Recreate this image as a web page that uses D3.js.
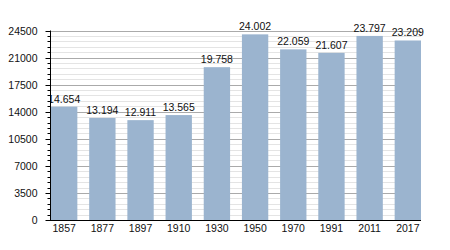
<!DOCTYPE html>
<html>
<head>
<meta charset="utf-8">
<script src="https://cdn.jsdelivr.net/npm/d3@7"></script>
<style>
body { margin: 0; background: #fff; }
text { font-family: "Liberation Sans", Arial, sans-serif; }
</style>
</head>
<body>
<script>
var years = ["1857", "1877", "1897", "1910", "1930", "1950", "1970", "1991", "2011", "2017"];
var population = [14654, 13194, 12911, 13565, 19758, 24002, 22059, 21607, 23797, 23209];
var labels = ["14.654", "13.194", "12.911", "13.565", "19.758", "24.002", "22.059", "21.607", "23.797", "23.209"];
var yTicks = [0, 3500, 7000, 10500, 14000, 17500, 21000, 24500];

var width = 450, height = 250;
var plotLeft = 50, plotRight = 421, plotTop = 30.5, plotBottom = 220;

var svg = d3.select("body").append("svg").attr("width", width).attr("height", height);

var x = d3.scaleBand().domain(years).range([plotLeft + 1, plotRight]).paddingInner(0.31).paddingOuter(0);
var y = d3.scaleLinear().domain([0, 24500]).range([plotBottom, plotTop]);

var minor = d3.range(0, 24501, 700);

function py(d) { return Math.round(y(d)) + 0.5; }

// labels get cut at the y axis, like the original
svg.append("clipPath").attr("id", "plot")
    .append("rect").attr("x", plotLeft + 1).attr("y", 0).attr("width", width - plotLeft).attr("height", plotBottom);

// minor grid
svg.append("g").selectAll("line").data(minor).enter().append("line")
    .attr("x1", plotLeft).attr("x2", plotRight)
    .attr("y1", py).attr("y2", py)
    .attr("stroke", "#e4e4e4").attr("stroke-width", 1);

// major grid
svg.append("g").selectAll("line").data(yTicks).enter().append("line")
    .attr("x1", plotLeft).attr("x2", plotRight)
    .attr("y1", py).attr("y2", py)
    .attr("stroke", "#aaaaaa").attr("stroke-width", 1);

// bars
svg.append("g").selectAll("rect").data(population).enter().append("rect")
    .attr("x", function (d, i) { return x(years[i]); })
    .attr("y", function (d) { return y(d); })
    .attr("width", x.bandwidth())
    .attr("height", function (d) { return plotBottom - y(d); })
    .attr("fill", "#9bb4cf");

// value labels
svg.append("g").attr("clip-path", "url(#plot)").selectAll("text").data(population).enter().append("text")
    .attr("x", function (d, i) { return x(years[i]) + x.bandwidth() / 2; })
    .attr("y", function (d) { return y(d) - 4; })
    .attr("text-anchor", "middle")
    .attr("font-size", "10.5px")
    .attr("fill", "#111")
    .text(function (d, i) { return labels[i]; });

// y axis
var yAxis = svg.append("g").attr("transform", "translate(" + (plotLeft + 0.5) + ",0)");
yAxis.append("line").attr("x1", 0).attr("x2", 0).attr("y1", y(24500)).attr("y2", plotBottom + 0.5)
    .attr("stroke", "#000");
yAxis.selectAll(".minor").data(minor).enter().append("line")
    .attr("x1", -3).attr("x2", 0)
    .attr("y1", py).attr("y2", py)
    .attr("stroke", "#000");
yAxis.selectAll(".major").data(yTicks).enter().append("line")
    .attr("x1", -5).attr("x2", 0)
    .attr("y1", py).attr("y2", py)
    .attr("stroke", "#000");
yAxis.selectAll("text").data(yTicks).enter().append("text")
    .attr("x", -13).attr("y", function (d) { return y(d) + 4; })
    .attr("text-anchor", "end").attr("font-size", "10.5px").attr("fill", "#111")
    .text(function (d) { return d; });

// x axis
svg.append("line").attr("x1", plotLeft).attr("x2", plotRight)
    .attr("y1", plotBottom + 0.5).attr("y2", plotBottom + 0.5).attr("stroke", "#000");
svg.append("g").selectAll("text").data(years).enter().append("text")
    .attr("x", function (d) { return x(d) + x.bandwidth() / 2; })
    .attr("y", 232)
    .attr("text-anchor", "middle").attr("font-size", "10.5px").attr("fill", "#111")
    .text(function (d) { return d; });
</script>
</body>
</html>
